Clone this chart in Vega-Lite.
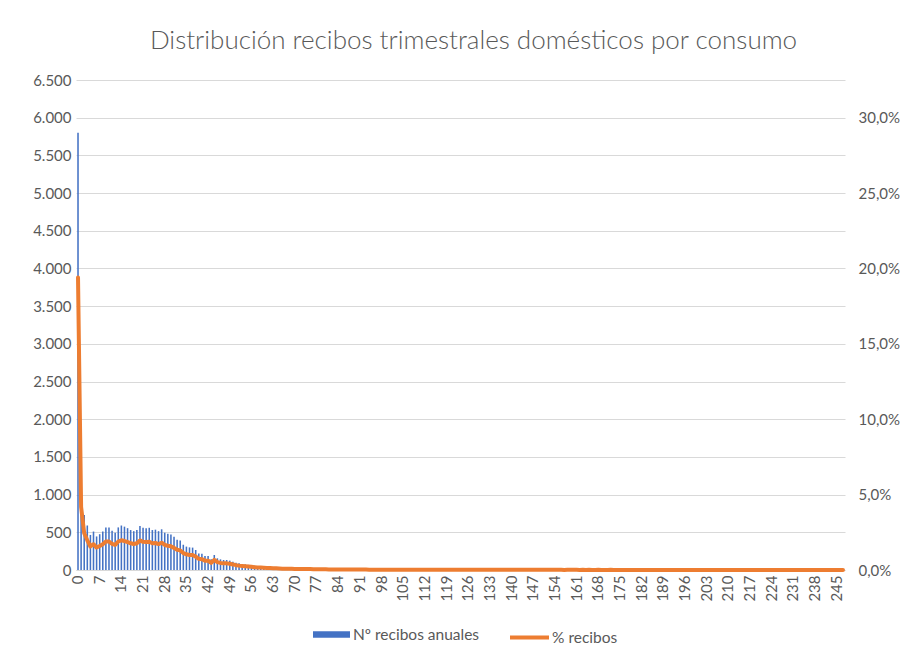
{
  "$schema": "https://vega.github.io/schema/vega-lite/v6.json",
  "width": 769,
  "height": 490,
  "autosize": {"type": "none"},
  "padding": {"left": 76, "top": 80, "right": 57, "bottom": 89},
  "background": "white",
  "config": {
    "font": "Lato",
    "locale": {"number": {"decimal": ",", "thousands": ".", "grouping": [3], "currency": ["", " €"]}},
    "view": {"stroke": null},
    "axis": {"labelColor": "#595959", "labelFontSize": 15, "labelFont": "Lato", "titleColor": "#595959"}
  },
  "title": {
    "text": "Distribución recibos trimestrales domésticos por consumo",
    "fontSize": 26,
    "fontWeight": 300,
    "color": "#595959",
    "font": "Lato",
    "anchor": "middle",
    "offset": 19,
    "dx": 13
  },
  "data": {"values": [
    {"c":0,"n":5800,"p":0.194},{"c":1,"n":1250,"p":0.0418},{"c":2,"n":730,"p":0.0244},{"c":3,"n":590,"p":0.0197},{"c":4,"n":465,"p":0.0156},
    {"c":5,"n":510,"p":0.0171},{"c":6,"n":445,"p":0.0149},{"c":7,"n":475,"p":0.0159},{"c":8,"n":510,"p":0.0171},{"c":9,"n":565,"p":0.0189},
    {"c":10,"n":565,"p":0.0189},{"c":11,"n":520,"p":0.0174},{"c":12,"n":495,"p":0.0166},{"c":13,"n":565,"p":0.0189},{"c":14,"n":590,"p":0.0197},
    {"c":15,"n":575,"p":0.0192},{"c":16,"n":555,"p":0.0186},{"c":17,"n":530,"p":0.0177},{"c":18,"n":515,"p":0.0172},{"c":19,"n":530,"p":0.0177},
    {"c":20,"n":585,"p":0.0196},{"c":21,"n":560,"p":0.0187},{"c":22,"n":555,"p":0.0186},{"c":23,"n":560,"p":0.0187},{"c":24,"n":530,"p":0.0177},
    {"c":25,"n":535,"p":0.0179},{"c":26,"n":515,"p":0.0172},{"c":27,"n":540,"p":0.0181},{"c":28,"n":495,"p":0.0166},{"c":29,"n":480,"p":0.0161},
    {"c":30,"n":470,"p":0.0157},{"c":31,"n":440,"p":0.0147},{"c":32,"n":400,"p":0.0134},{"c":33,"n":390,"p":0.013},{"c":34,"n":335,"p":0.0112},
    {"c":35,"n":310,"p":0.0104},{"c":36,"n":300,"p":0.01},{"c":37,"n":297,"p":0.0099},{"c":38,"n":265,"p":0.0089},{"c":39,"n":220,"p":0.0074},
    {"c":40,"n":214,"p":0.0072},{"c":41,"n":186,"p":0.0062},{"c":42,"n":186,"p":0.0062},{"c":43,"n":141,"p":0.0047},{"c":44,"n":199,"p":0.0067},
    {"c":45,"n":155,"p":0.0052},{"c":46,"n":141,"p":0.0047},{"c":47,"n":133,"p":0.0044},{"c":48,"n":133,"p":0.0044},{"c":49,"n":124,"p":0.0041},
    {"c":50,"n":110,"p":0.0037},{"c":51,"n":97,"p":0.0032},{"c":52,"n":88,"p":0.0029},{"c":53,"n":80,"p":0.0027},{"c":54,"n":75,"p":0.0025},
    {"c":55,"n":68,"p":0.0023},{"c":56,"n":62,"p":0.0021},{"c":57,"n":58,"p":0.0019},{"c":58,"n":52,"p":0.0017},{"c":59,"n":48,"p":0.0016},
    {"c":60,"n":45,"p":0.0015},{"c":61,"n":42,"p":0.0014},{"c":62,"n":38,"p":0.0013},{"c":63,"n":35,"p":0.0012},{"c":64,"n":33,"p":0.0011},
    {"c":65,"n":30,"p":0.001},{"c":66,"n":28,"p":0.0009},{"c":67,"n":27,"p":0.0009},{"c":68,"n":25,"p":0.0008},{"c":69,"n":24,"p":0.0008},
    {"c":70,"n":22,"p":0.0007},{"c":71,"n":21,"p":0.0007},{"c":72,"n":20,"p":0.0007},{"c":73,"n":19,"p":0.0006},{"c":74,"n":18,"p":0.0006},
    {"c":75,"n":17,"p":0.0006},{"c":76,"n":16,"p":0.0005},{"c":77,"n":16,"p":0.0005},{"c":78,"n":15,"p":0.0005},{"c":79,"n":14,"p":0.0005},
    {"c":80,"n":14,"p":0.0005},{"c":81,"n":13,"p":0.0004},{"c":82,"n":12,"p":0.0004},{"c":83,"n":12,"p":0.0004},{"c":84,"n":11,"p":0.0004},
    {"c":85,"n":11,"p":0.0004},{"c":86,"n":10,"p":0.0003},{"c":87,"n":10,"p":0.0003},{"c":88,"n":9,"p":0.0003},{"c":89,"n":9,"p":0.0003},
    {"c":90,"n":9,"p":0.0003},{"c":91,"n":8,"p":0.0003},{"c":92,"n":8,"p":0.0003},{"c":93,"n":8,"p":0.0003},{"c":94,"n":7,"p":0.0002},
    {"c":95,"n":7,"p":0.0002},{"c":96,"n":7,"p":0.0002},{"c":97,"n":7,"p":0.0002},{"c":98,"n":6,"p":0.0002},{"c":99,"n":6,"p":0.0002},
    {"c":100,"n":6,"p":0.0002},{"c":101,"n":6,"p":0.0002},{"c":102,"n":6,"p":0.0002},{"c":103,"n":5,"p":0.0002},{"c":104,"n":5,"p":0.0002},
    {"c":105,"n":5,"p":0.0002},{"c":106,"n":5,"p":0.0002},{"c":107,"n":5,"p":0.0002},{"c":108,"n":5,"p":0.0002},{"c":109,"n":4,"p":0.0001},
    {"c":110,"n":4,"p":0.0001},{"c":111,"n":4,"p":0.0001},{"c":112,"n":4,"p":0.0001},{"c":113,"n":4,"p":0.0001},{"c":114,"n":4,"p":0.0001},
    {"c":115,"n":4,"p":0.0001},{"c":116,"n":3,"p":0.0001},{"c":117,"n":4,"p":0.0001},{"c":118,"n":3,"p":0.0001},{"c":119,"n":3,"p":0.0001},
    {"c":120,"n":4,"p":0.0001},{"c":121,"n":3,"p":0.0001},{"c":122,"n":3,"p":0.0001},{"c":123,"n":3,"p":0.0001},{"c":124,"n":3,"p":0.0001},
    {"c":125,"n":3,"p":0.0001},{"c":126,"n":3,"p":0.0001},{"c":127,"n":3,"p":0.0001},{"c":128,"n":3,"p":0.0001},{"c":129,"n":3,"p":0.0001},
    {"c":130,"n":3,"p":0.0001},{"c":131,"n":3,"p":0.0001},{"c":132,"n":3,"p":0.0001},{"c":133,"n":2,"p":0.0001},{"c":134,"n":3,"p":0.0001},
    {"c":135,"n":2,"p":0.0001},{"c":136,"n":3,"p":0.0001},{"c":137,"n":2,"p":0.0001},{"c":138,"n":2,"p":0.0001},{"c":139,"n":3,"p":0.0001},
    {"c":140,"n":2,"p":0.0001},{"c":141,"n":2,"p":0.0001},{"c":142,"n":2,"p":0.0001},{"c":143,"n":2,"p":0.0001},{"c":144,"n":2,"p":0.0001},
    {"c":145,"n":3,"p":0.0001},{"c":146,"n":2,"p":0.0001},{"c":147,"n":2,"p":0.0001},{"c":148,"n":2,"p":0.0001},{"c":149,"n":2,"p":0.0001},
    {"c":150,"n":2,"p":0.0001},{"c":151,"n":2,"p":0.0001},{"c":152,"n":2,"p":0.0001},{"c":153,"n":2,"p":0.0001},{"c":154,"n":2,"p":0.0001},
    {"c":155,"n":2,"p":0.0001},{"c":156,"n":2,"p":0.0001},{"c":157,"n":1,"p":0.0},{"c":158,"n":2,"p":0.0001},{"c":159,"n":2,"p":0.0001},
    {"c":160,"n":2,"p":0.0001},{"c":161,"n":2,"p":0.0001},{"c":162,"n":1,"p":0.0},{"c":163,"n":2,"p":0.0001},{"c":164,"n":1,"p":0.0},
    {"c":165,"n":2,"p":0.0001},{"c":166,"n":1,"p":0.0},{"c":167,"n":1,"p":0.0},{"c":168,"n":2,"p":0.0001},{"c":169,"n":1,"p":0.0},
    {"c":170,"n":1,"p":0.0},{"c":171,"n":1,"p":0.0},{"c":172,"n":2,"p":0.0001},{"c":173,"n":1,"p":0.0},{"c":174,"n":1,"p":0.0},
    {"c":175,"n":1,"p":0.0},{"c":176,"n":1,"p":0.0},{"c":177,"n":1,"p":0.0},{"c":178,"n":1,"p":0.0},{"c":179,"n":1,"p":0.0},
    {"c":180,"n":1,"p":0.0},{"c":181,"n":1,"p":0.0},{"c":182,"n":1,"p":0.0},{"c":183,"n":1,"p":0.0},{"c":184,"n":1,"p":0.0},
    {"c":185,"n":1,"p":0.0},{"c":186,"n":1,"p":0.0},{"c":187,"n":1,"p":0.0},{"c":188,"n":1,"p":0.0},{"c":189,"n":1,"p":0.0},
    {"c":190,"n":1,"p":0.0},{"c":191,"n":1,"p":0.0},{"c":192,"n":1,"p":0.0},{"c":193,"n":1,"p":0.0},{"c":194,"n":1,"p":0.0},
    {"c":195,"n":1,"p":0.0},{"c":196,"n":1,"p":0.0},{"c":197,"n":1,"p":0.0},{"c":198,"n":1,"p":0.0},{"c":199,"n":1,"p":0.0},
    {"c":200,"n":1,"p":0.0},{"c":201,"n":1,"p":0.0},{"c":202,"n":1,"p":0.0},{"c":203,"n":1,"p":0.0},{"c":204,"n":1,"p":0.0},
    {"c":205,"n":1,"p":0.0},{"c":206,"n":1,"p":0.0},{"c":207,"n":0,"p":0.0},{"c":208,"n":1,"p":0.0},{"c":209,"n":1,"p":0.0},
    {"c":210,"n":1,"p":0.0},{"c":211,"n":1,"p":0.0},{"c":212,"n":0,"p":0.0},{"c":213,"n":1,"p":0.0},{"c":214,"n":1,"p":0.0},
    {"c":215,"n":1,"p":0.0},{"c":216,"n":0,"p":0.0},{"c":217,"n":1,"p":0.0},{"c":218,"n":1,"p":0.0},{"c":219,"n":0,"p":0.0},
    {"c":220,"n":1,"p":0.0},{"c":221,"n":1,"p":0.0},{"c":222,"n":0,"p":0.0},{"c":223,"n":1,"p":0.0},{"c":224,"n":1,"p":0.0},
    {"c":225,"n":0,"p":0.0},{"c":226,"n":1,"p":0.0},{"c":227,"n":0,"p":0.0},{"c":228,"n":1,"p":0.0},{"c":229,"n":1,"p":0.0},
    {"c":230,"n":0,"p":0.0},{"c":231,"n":1,"p":0.0},{"c":232,"n":0,"p":0.0},{"c":233,"n":1,"p":0.0},{"c":234,"n":0,"p":0.0},
    {"c":235,"n":1,"p":0.0},{"c":236,"n":0,"p":0.0},{"c":237,"n":1,"p":0.0},{"c":238,"n":0,"p":0.0},{"c":239,"n":1,"p":0.0},
    {"c":240,"n":0,"p":0.0},{"c":241,"n":1,"p":0.0},{"c":242,"n":0,"p":0.0},{"c":243,"n":1,"p":0.0},{"c":244,"n":0,"p":0.0},
    {"c":245,"n":1,"p":0.0},{"c":246,"n":0,"p":0.0},{"c":247,"n":1,"p":0.0}
  ]},
  "encoding": {
    "x": {
      "field": "c",
      "type": "ordinal",
      "sort": "ascending",
      "scale": {"paddingInner": 0.5, "paddingOuter": 0.4},
      "axis": {
        "title": null,
        "values": [0,7,14,21,28,35,42,49,56,63,70,77,84,91,98,105,112,119,126,133,140,147,154,161,168,175,182,189,196,203,210,217,224,231,238,245],
        "labelAngle": -90,
        "labelOverlap": false,
        "ticks": false,
        "domain": true,
        "domainColor": "#D9D9D9",
        "labelPadding": 5,
        "labelFontSize": 15
      }
    }
  },
  "layer": [
    {
      "mark": {"type": "bar", "color": "#4472C4"},
      "encoding": {
        "y": {
          "field": "n",
          "type": "quantitative",
          "scale": {"domain": [0, 6500], "nice": false},
          "axis": {
            "title": null,
            "orient": "left",
            "values": [0,500,1000,1500,2000,2500,3000,3500,4000,4500,5000,5500,6000,6500],
            "format": ",d",
            "domain": false,
            "ticks": false,
            "grid": true,
            "gridColor": "#D9D9D9",
            "gridWidth": 1,
            "labelPadding": 5
          }
        },
        "color": {
          "datum": "Nº recibos anuales",
          "scale": {"range": ["#4472C4"]},
          "legend": {
            "title": null,
            "orient": "none",
            "legendX": 237,
            "legendY": 536,
            "symbolType": "M-1,-0.18L1,-0.18L1,0.18L-1,0.18Z",
            "symbolSize": 1369,
            "symbolStrokeWidth": 0,
            "labelFontSize": 15.5,
            "labelColor": "#595959",
            "labelFont": "Lato",
            "labelOffset": 3
          }
        }
      }
    },
    {
      "mark": {"type": "line", "color": "#ED7D31", "strokeWidth": 4, "strokeJoin": "round", "strokeCap": "round"},
      "encoding": {
        "y": {
          "field": "p",
          "type": "quantitative",
          "scale": {"domain": [0, 0.325], "nice": false},
          "axis": {
            "title": null,
            "orient": "right",
            "values": [0,0.05,0.1,0.15,0.2,0.25,0.3],
            "format": ".1%",
            "domain": false,
            "ticks": false,
            "grid": false,
            "labelPadding": 13
          }
        },
        "color": {
          "datum": "% recibos",
          "scale": {"range": ["#ED7D31"]},
          "legend": {
            "title": null,
            "orient": "none",
            "legendX": 432,
            "legendY": 536,
            "symbolType": "stroke",
            "symbolSize": 1521,
            "symbolStrokeWidth": 4,
            "labelFontSize": 15.5,
            "labelColor": "#595959",
            "labelFont": "Lato",
            "labelOffset": 1
          }
        }
      }
    }
  ],
  "resolve": {"scale": {"y": "independent", "color": "independent"}}
}
